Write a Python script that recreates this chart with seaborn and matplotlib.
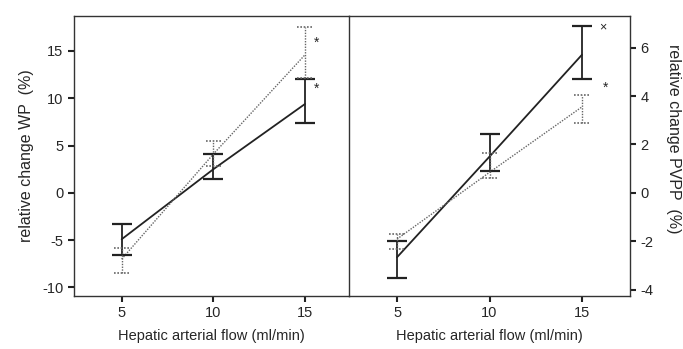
import matplotlib
matplotlib.use("Agg")
import matplotlib.pyplot as plt
import seaborn as sns
import numpy as np
import pandas as pd

flow = [5, 10, 15]

# Left panel: relative change WP (%)
wp_solid_mean = [-4.9, 2.5, 9.4]
wp_solid_low = [-6.6, 1.45, 7.35]
wp_solid_high = [-3.3, 4.1, 12.0]
wp_dot_mean = [-7.0, 4.1, 14.6]
wp_dot_low = [-8.5, 2.85, 12.1]
wp_dot_high = [-5.8, 5.5, 17.5]

# Right panel: relative change PVPP (%)
pv_solid_mean = [-2.65, 1.5, 5.7]
pv_solid_low = [-3.5, 0.9, 4.7]
pv_solid_high = [-2.0, 2.43, 6.88]
pv_dot_mean = [-1.9, 0.85, 3.55]
pv_dot_low = [-2.3, 0.6, 2.9]
pv_dot_high = [-1.7, 1.63, 4.05]

sns.set_style("ticks")
plt.rcParams['font.family'] = ['Liberation Sans', 'DejaVu Sans']
plt.rcParams['axes.unicode_minus'] = False

fig = plt.figure(figsize=(6.83, 3.49), dpi=100)
axL = fig.add_axes([74/683, 53/349, 275/683, 280/349])
axR = fig.add_axes([349/683, 53/349, 281/683, 280/349])

DARK = "#222222"
GREY = "#666666"
DOT = (0, (1, 1))
CAPW = 0.42  # half-width of caps in data units


def draw(ax, means_s, lo_s, hi_s, means_d, lo_d, hi_d):
    df = pd.DataFrame({
        "flow": flow + flow,
        "val": list(means_s) + list(means_d),
        "grp": ["solid"] * 3 + ["dot"] * 3,
    })
    sns.lineplot(data=df[df.grp == "solid"], x="flow", y="val", ax=ax,
                 color=DARK, lw=1.3, errorbar=None, legend=False)
    sns.lineplot(data=df[df.grp == "dot"], x="flow", y="val", ax=ax,
                 color=GREY, lw=1.0, errorbar=None, legend=False,
                 linestyle=DOT)
    ms = np.array(means_s)
    ax.errorbar(flow, ms, yerr=[ms - np.array(lo_s), np.array(hi_s) - ms],
                fmt="none", ecolor=DARK, elinewidth=1.3, capsize=7.5, capthick=1.6)
    fx = np.array(flow, dtype=float)
    ax.vlines(fx, lo_d, hi_d, colors=GREY, lw=1.0, linestyles=DOT)
    ax.hlines(lo_d, fx - CAPW, fx + CAPW, colors=GREY, lw=1.2, linestyles=DOT)
    ax.hlines(hi_d, fx - CAPW, fx + CAPW, colors=GREY, lw=1.2, linestyles=DOT)
    ax.set_xticks([5, 10, 15])
    ax.set_xlabel("Hepatic arterial flow (ml/min)", fontsize=10.5, labelpad=7)
    for s in ax.spines.values():
        s.set_color("#333333")
        s.set_linewidth(1.0)
    ax.tick_params(axis="both", labelsize=10.5, length=4, width=1.5, color="#222222")
    ax.tick_params(axis="x", pad=3)


draw(axL, wp_solid_mean, wp_solid_low, wp_solid_high, wp_dot_mean, wp_dot_low, wp_dot_high)
draw(axR, pv_solid_mean, pv_solid_low, pv_solid_high, pv_dot_mean, pv_dot_low, pv_dot_high)

axL.set_xlim(2.4, 17.4)
axL.set_ylim(-10.9, 18.7)
axL.set_yticks([-10, -5, 0, 5, 10, 15])
axL.set_ylabel("relative change WP  (%)", fontsize=11.5, labelpad=6)
axL.spines["right"].set_visible(False)

axR.set_xlim(2.4, 17.6)
axR.set_ylim(-4.25, 7.3)
axR.set_yticks([-4, -2, 0, 2, 4, 6])
axR.yaxis.tick_right()
axR.yaxis.set_label_position("right")
axR.set_ylabel("relative change PVPP  (%)", fontsize=11.5, rotation=270, labelpad=20)
axR.yaxis.label.set_y(0.56)
axR.tick_params(axis="y", left=False)

axL.text(15.65, 15.9, "*", fontsize=10, ha="center", va="center")
axL.text(15.65, 11.0, "*", fontsize=10, ha="center", va="center")
axR.text(16.14, 6.84, "×", fontsize=9, ha="center", va="center")
axR.text(16.3, 4.32, "*", fontsize=10, ha="center", va="center")

fig.savefig("out.png", dpi=100)
